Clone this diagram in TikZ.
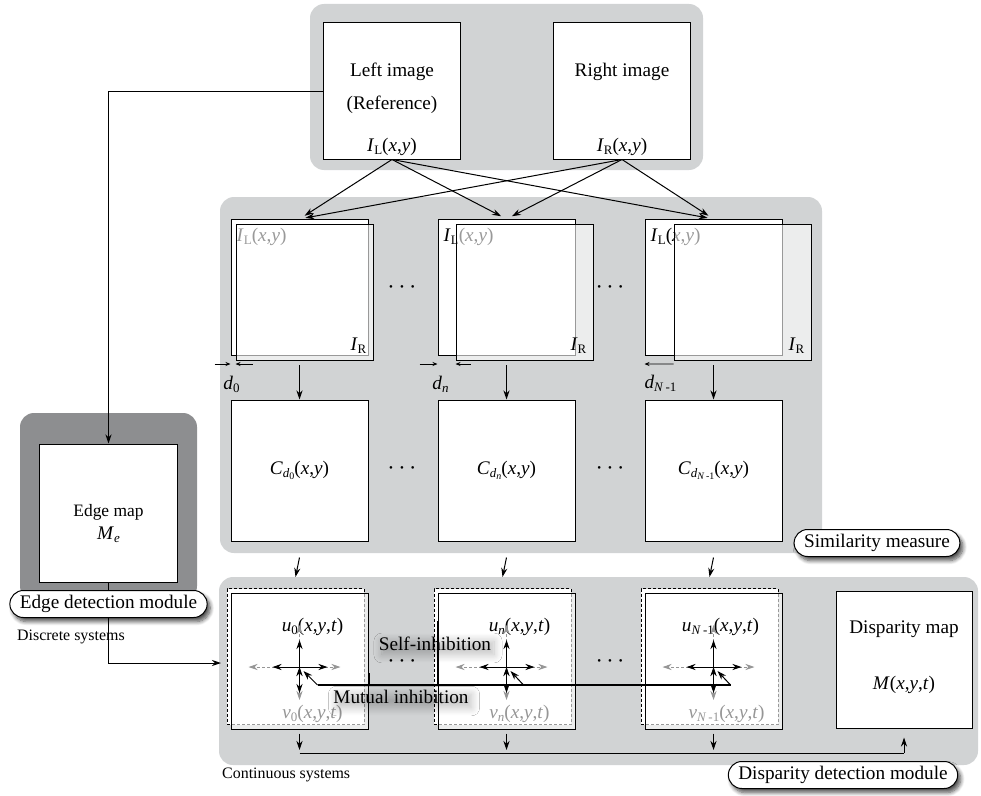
\documentclass[tikz,border=0pt]{standalone}
\usepackage{fontspec}
\setmainfont{Liberation Serif}
\usepackage{tikz}
\usetikzlibrary{arrows.meta,positioning,shadows.blur}

\definecolor{panelgray}{RGB}{209,211,212}
\definecolor{edgegray}{RGB}{141,142,144}
\definecolor{textgray}{RGB}{150,150,150}

% subscripts in text mode
\newcommand{\lsub}[1]{\raisebox{-0.35ex}{\fontsize{13}{13}\selectfont #1}}
\newcommand{\llsub}[1]{\raisebox{-0.3ex}{\fontsize{10}{10}\selectfont #1}}
\newcommand{\tridots}{\textbullet\hspace{7bp}\textbullet\hspace{7bp}\textbullet}

\begin{document}
\begin{tikzpicture}[x=1bp, y=-1bp,
  imgbox/.style={draw, fill=white, line width=1bp, minimum width=137bp,
    minimum height=136bp, inner sep=0pt, font=\fontsize{19.3}{22}\selectfont},
  frontbox/.style={imgbox, fill opacity=0.6, text opacity=1},
  dashbox/.style={imgbox, dash pattern=on 3bp off 2bp},
  lbl/.style={font=\fontsize{19.3}{22}\selectfont, inner sep=1bp},
  small/.style={font=\fontsize{16}{18}\selectfont, inner sep=1bp},
  dots/.style={font=\fontsize{11}{11}\selectfont, inner sep=0pt},
  arr/.style={-{Stealth[length=9bp, width=6bp]}, line width=1bp},
  darr/.style={-{Stealth[length=5bp, width=4bp]}, line width=0.8bp},
  garr/.style={arr, textgray, dash pattern=on 3bp off 2bp},
  tag/.style={draw, fill=white, line width=1bp, rounded corners=13.5bp,
    minimum height=27bp, inner xsep=10bp, inner ysep=2bp,
    font=\fontsize{19.3}{22}\selectfont,
    blur shadow={shadow xshift=3bp, shadow yshift=-4bp, shadow blur steps=8,
      shadow blur radius=4bp, shadow opacity=70}},
  glow/.style={lbl, inner sep=0pt, blur shadow={shadow xshift=3bp, shadow yshift=-4bp,
    shadow blur steps=12, shadow blur radius=8bp, shadow opacity=24}}
]
  \useasboundingbox (0,0) rectangle (981,796);

  % Panels
  \fill[panelgray, rounded corners=14bp] (310,4) rectangle (703,170);
  \fill[panelgray, rounded corners=14bp] (220,197) rectangle (822,553);
  \fill[panelgray, rounded corners=14bp] (219,577) rectangle (978,765);
  \fill[edgegray, rounded corners=14bp] (20,413) rectangle (197,600);

  % Input images
  \node[imgbox] (left) at (392,91) {};
  \node[imgbox, right=92bp of left] (right) {};
  \node[lbl] (lefttxt) at ([yshift=-49bp]left.north) {Left image};
  \node[lbl] (reftxt) at ([yshift=-82bp]left.north) {(Reference)};
  \node[lbl] (iltxt) at ([yshift=-124bp]left.north) {\textit{I}\lsub{L}(\textit{x},\textit{y})};
  \node[lbl] (righttxt) at ([yshift=-49bp]right.north) {Right image};
  \node[lbl] (irtxt) at ([yshift=-124bp]right.north) {\textit{I}\lsub{R}(\textit{x},\textit{y})};

  % Shifted pairs
  \node[imgbox] (il0) at (299.5,287.5) {};
  \node[lbl, anchor=west] (il0t) at ([xshift=5bp, yshift=-18bp]il0.north west) {\textit{I}\lsub{L}(\textit{x},\textit{y})};
  \node[frontbox] (ir0) at (304.5,292.5) {};
  \node[lbl, anchor=south east] (ir0t) at ([xshift=-6bp, yshift=6bp]ir0.south east) {\textit{I}\lsub{R}};

  \node[imgbox] (il1) at (506.5,287.5) {};
  \node[lbl, anchor=west] (il1t) at ([xshift=5bp, yshift=-18bp]il1.north west) {\textit{I}\lsub{L}(\textit{x},\textit{y})};
  \node[frontbox] (ir1) at (524.5,292.5) {};
  \node[lbl, anchor=south east] (ir1t) at ([xshift=-6bp, yshift=6bp]ir1.south east) {\textit{I}\lsub{R}};

  \node[imgbox] (il2) at (713.5,287.5) {};
  \node[lbl, anchor=west] (il2t) at ([xshift=5bp, yshift=-18bp]il2.north west) {\textit{I}\lsub{L}(\textit{x},\textit{y})};
  \node[frontbox] (ir2) at (742.5,292.5) {};
  \node[lbl, anchor=south east] (ir2t) at ([xshift=-6bp, yshift=6bp]ir2.south east) {\textit{I}\lsub{R}};

  \node[dots] (dt0) at (402,288) {\tridots};
  \node[dots] (dt1) at (610,288) {\tridots};

  % Disparity shifts
  \draw[darr] ([xshift=-16bp, yshift=-8bp]il0.south west) -- ([yshift=-8bp]il0.south west);
  \draw[darr] ([xshift=17bp, yshift=-3bp]ir0.south west) -- ([yshift=-3bp]ir0.south west);
  \draw[darr] ([xshift=-18bp, yshift=-8bp]il1.south west) -- ([yshift=-8bp]il1.south west);
  \draw[darr] ([xshift=15bp, yshift=-3bp]ir1.south west) -- ([yshift=-3bp]ir1.south west);
  \draw[darr, {Stealth[length=5bp, width=4bp]}-] ([yshift=-8bp]il2.south west) -- ([yshift=-3bp]ir2.south west);
  \node[lbl] (d0) at ([xshift=1bp, yshift=-28bp]il0.south west) {\textit{d}\lsub{0}};
  \node[lbl] (dn) at ([xshift=3bp, yshift=-28bp]il1.south west) {\textit{d}\lsub{\textit{n}}};
  \node[lbl] (dN) at ([xshift=16bp, yshift=-27bp]il2.south west) {\textit{d}\lsub{\textit{N}\,-1}};

  % Similarity measure
  \node[imgbox, minimum height=141bp] (cd0) at (299.5,470.5) {\textit{C}\lsub{\textit{d}\llsub{0}}(\textit{x},\textit{y})};
  \node[imgbox, minimum height=141bp] (cd1) at (506.5,470.5) {\textit{C}\lsub{\textit{d}\llsub{\textit{n}}}(\textit{x},\textit{y})};
  \node[imgbox, minimum height=141bp] (cd2) at (713.5,470.5) {\textit{C}\lsub{\textit{d}\llsub{\textit{N}\,-1}}(\textit{x},\textit{y})};
  \node[dots] (dt2) at (402,469) {\tridots};
  \node[dots] (dt3) at (610,469) {\tridots};

  % Input arrows
  \draw[arr, shorten >=6bp] (left.south) -- (il0.north);
  \draw[arr, shorten >=6bp] (left.south) -- (il1.north);
  \draw[arr, shorten >=6bp] (left.south) -- (il2.north);
  \draw[arr, shorten >=6bp] (right.south) -- (il0.north);
  \draw[arr, shorten >=6bp] (right.south) -- (il1.north);
  \draw[arr, shorten >=6bp] (right.south) -- (il2.north);
  \draw[arr] ([yshift=-9bp]il0.south) -- (cd0.north);
  \draw[arr] ([yshift=-9bp]il1.south) -- (cd1.north);
  \draw[arr] ([yshift=-9bp]il2.south) -- (cd2.north);

  % Edge detection
  \node[imgbox, minimum height=138bp] (edge) at (108.5,513) {};
  \node[font=\fontsize{17.5}{20}\selectfont, inner sep=1bp] (edgetxt) at (108.5,512) {Edge map};
  \node[lbl] (metxt) at (108.5,535) {\textit{M}\lsub{\textit{e}}};
  \coordinate (din) at (221,663);
  \draw[arr] (left.west) -| (edge.north);
  \draw[arr] (edge.south) |- (din);

  % Competing units
  \node[dashbox] (ud0) at (295.5,656.5) {};
  \node[frontbox] (u0) at (299.5,661) {};
  \node[dashbox] (ud1) at (502.5,656.5) {};
  \node[frontbox] (u1) at (506.5,661) {};
  \node[dashbox] (ud2) at (709.5,656.5) {};
  \node[frontbox] (u2) at (713.5,661) {};
  \coordinate (x0) at (299.5,667);
  \coordinate (x1) at (506.5,667);
  \coordinate (x2) at (713.5,667);
  \draw[arr] ([yshift=-16bp]cd0.south) -- ([yshift=11bp]ud0.north);
  \draw[arr] ([yshift=-16bp]cd1.south) -- ([yshift=11bp]ud1.north);
  \draw[arr] ([yshift=-16bp]cd2.south) -- ([yshift=11bp]ud2.north);

  \node[lbl] (ut0) at ([xshift=13bp, yshift=-34bp]u0.north) {\textit{u}\lsub{0}(\textit{x},\textit{y},\textit{t})};
  \node[lbl, text=textgray] (vt0) at ([xshift=13bp, yshift=16bp]u0.south) {\textit{v}\lsub{0}(\textit{x},\textit{y},\textit{t})};
  \node[lbl] (ut1) at ([xshift=13bp, yshift=-34bp]u1.north) {\textit{u}\lsub{\textit{n}}(\textit{x},\textit{y},\textit{t})};
  \node[lbl, text=textgray] (vt1) at ([xshift=13bp, yshift=16bp]u1.south) {\textit{v}\lsub{\textit{n}}(\textit{x},\textit{y},\textit{t})};
  \node[lbl] (ut2) at ([xshift=7bp, yshift=-34bp]u2.north) {\textit{u}\lsub{\textit{N}\,-1}(\textit{x},\textit{y},\textit{t})};
  \node[lbl, text=textgray] (vt2) at ([xshift=13bp, yshift=16bp]u2.south) {\textit{v}\lsub{\textit{N}\,-1}(\textit{x},\textit{y},\textit{t})};

  \draw[garr] (x0) edge ([xshift=-51bp]x0) edge ([xshift=41bp]x0) edge ([yshift=42bp]x0) edge ([yshift=-33bp]x0);
  \draw[arr] (x0) edge ([xshift=-27bp]x0) edge ([xshift=28bp]x0) edge ([yshift=27bp]x0) edge ([yshift=-26bp]x0);
  \draw[garr] (x1) edge ([xshift=-51bp]x1) edge ([xshift=41bp]x1) edge ([yshift=42bp]x1) edge ([yshift=-33bp]x1);
  \draw[arr] (x1) edge ([xshift=-27bp]x1) edge ([xshift=28bp]x1) edge ([yshift=27bp]x1) edge ([yshift=-26bp]x1);
  \draw[garr] (x2) edge ([xshift=-51bp]x2) edge ([xshift=41bp]x2) edge ([yshift=42bp]x2) edge ([yshift=-33bp]x2);
  \draw[arr] (x2) edge ([xshift=-27bp]x2) edge ([xshift=28bp]x2) edge ([yshift=27bp]x2) edge ([yshift=-26bp]x2);

  \node[dots] (dt4) at (402,662) {\tridots};
  \node[dots] (dt5) at (610,662) {\tridots};

  % Mutual inhibition
  \coordinate (mi0) at ([xshift=18bp, yshift=-18bp]x0);
  \coordinate (mi1) at ([xshift=17bp, yshift=-18bp]x1);
  \coordinate (mi2) at ([xshift=17bp, yshift=-18bp]x2);
  \draw[line width=2bp] (mi0) -- (mi2);
  \draw[arr] (mi0) -- ([xshift=4bp, yshift=-4bp]x0);
  \draw[arr] (mi1) -- ([xshift=4bp, yshift=-4bp]x1);
  \draw[arr] (mi2) -- ([xshift=4bp, yshift=-4bp]x2);
  \draw[line width=2bp] ([yshift=-28bp]u1.north west) -- (u1.west |- mi1);
  \draw[line width=2bp] ([yshift=-12bp]u0.east) -- (u0.east |- mi0);
  \node[glow] (selfinh) at (435,644) {Self-inhibition};
  \node[glow] (mutinh) at (401,697) {Mutual inhibition};

  % Disparity map
  \node[imgbox, minimum width=136bp, minimum height=137bp] (disp) at (904,659.5) {};
  \node[lbl] (disptxt) at ([yshift=-39bp]disp.north) {Disparity map};
  \node[lbl] (mtxt) at ([yshift=-94bp]disp.north) {\textit{M}(\textit{x},\textit{y},\textit{t})};
  \coordinate (bus0) at (299.5,753);
  \coordinate (bus1) at (506.5,753);
  \coordinate (bus2) at (713.5,753);
  \coordinate (bus3) at (904,753);
  \draw[arr, shorten >=3bp] ([yshift=-4bp]u0.south) -- (bus0);
  \draw[arr, shorten >=3bp] ([yshift=-4bp]u1.south) -- (bus1);
  \draw[arr, shorten >=3bp] ([yshift=-4bp]u2.south) -- (bus2);
  \draw[line width=1bp] (bus0) -- (bus3);
  \draw[arr] (bus3) -- ([yshift=-9bp]disp.south);

  % System labels
  \node[small, anchor=west] (disc) at (16,637) {Discrete systems};
  \node[small, anchor=west] (cont) at (221,775) {Continuous systems};

  % Module tags
  \node[tag] (edgetag) at (108.5,604) {Edge detection module};
  \node[tag] (simtag) at (877,543) {Similarity measure};
  \node[tag] (disptag) at (843,775) {Disparity detection module};
\end{tikzpicture}
\end{document}
